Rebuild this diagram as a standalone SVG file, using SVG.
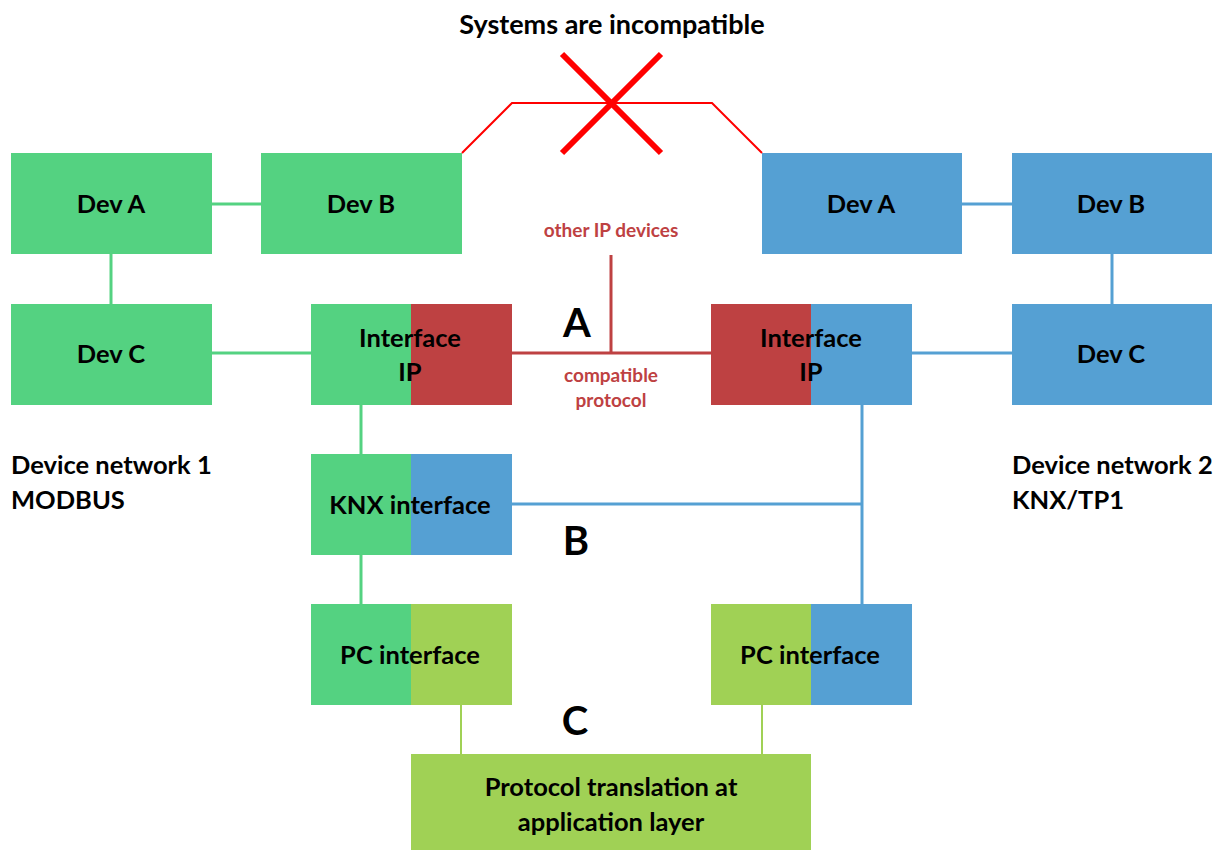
<svg xmlns="http://www.w3.org/2000/svg" width="1222" height="850" viewBox="0 0 1222 850">
<style>
.g{fill:#54D281}.b{fill:#55A0D3}.r{fill:#BE4142}.l{fill:#A0D155}
text{font-family:Lato,"Liberation Sans",sans-serif;font-weight:bold;fill:#000}
.t{font-size:25.5px;text-anchor:middle}
.big{font-size:40px;text-anchor:middle}
.red{fill:#BE4142;font-size:19px;text-anchor:middle}
.side{font-size:25.5px}
.cg{stroke:#54D281;stroke-width:3;fill:none}
.cb{stroke:#55A0D3;stroke-width:3;fill:none}
.cr{stroke:#BE4142;stroke-width:3;fill:none}
.cl{stroke:#A0D155;stroke-width:2;fill:none}
</style>
<rect width="1222" height="850" fill="#fff"/>
<g id="connectors">
<line class="cg" x1="212" y1="204" x2="261" y2="204"/>
<line class="cg" x1="111" y1="254" x2="111" y2="304"/>
<line class="cg" x1="212" y1="353" x2="311" y2="353"/>
<line class="cg" x1="361" y1="405" x2="361" y2="454"/>
<line class="cg" x1="361" y1="555" x2="361" y2="604"/>
<line class="cr" x1="512" y1="353" x2="711" y2="353"/>
<line class="cr" x1="611" y1="255" x2="611" y2="353"/>
<line class="cb" x1="962" y1="204" x2="1012" y2="204"/>
<line class="cb" x1="1112" y1="254" x2="1112" y2="304"/>
<line class="cb" x1="912" y1="353" x2="1012" y2="353"/>
<line class="cb" x1="512" y1="504" x2="862" y2="504"/>
<line class="cb" x1="862" y1="405" x2="862" y2="604"/>
<line class="cl" x1="461" y1="705" x2="461" y2="754"/>
<line class="cl" x1="762" y1="705" x2="762" y2="754"/>
<polyline points="462,153 512,103 712,103 762,153" fill="none" stroke="#FF0000" stroke-width="2"/>
<line x1="562" y1="54" x2="661" y2="153" stroke="#FF0000" stroke-width="6"/>
<line x1="661" y1="54" x2="562" y2="153" stroke="#FF0000" stroke-width="6"/>
</g>
<text x="612" y="34" style="font-size:27px;text-anchor:middle">Systems are incompatible</text>
<g id="g-devA"><rect class="g" x="11" y="153" width="201" height="101"/><text class="t" x="111" y="213">Dev A</text></g>
<g id="g-devB"><rect class="g" x="261" y="153" width="201" height="101"/><text class="t" x="361" y="213">Dev B</text></g>
<g id="g-devC"><rect class="g" x="11" y="304" width="201" height="101"/><text class="t" x="111" y="363">Dev C</text></g>
<g id="g-ip"><rect class="g" x="311" y="304" width="100" height="101"/><rect class="r" x="411" y="304" width="101" height="101"/><text class="t" x="410" y="347">Interface</text><text class="t" x="410" y="381">IP</text></g>
<g id="knx"><rect class="g" x="311" y="454" width="100" height="101"/><rect class="b" x="411" y="454" width="101" height="101"/><text class="t" x="410" y="514">KNX interface</text></g>
<g id="g-pc"><rect class="g" x="311" y="604" width="100" height="101"/><rect class="l" x="411" y="604" width="101" height="101"/><text class="t" x="410" y="664">PC interface</text></g>
<g id="b-devA"><rect class="b" x="762" y="153" width="200" height="101"/><text class="t" x="861" y="213">Dev A</text></g>
<g id="b-devB"><rect class="b" x="1012" y="153" width="200" height="101"/><text class="t" x="1111" y="213">Dev B</text></g>
<g id="b-devC"><rect class="b" x="1012" y="304" width="200" height="101"/><text class="t" x="1111" y="363">Dev C</text></g>
<g id="b-ip"><rect class="r" x="711" y="304" width="100" height="101"/><rect class="b" x="811" y="304" width="101" height="101"/><text class="t" x="811" y="347">Interface</text><text class="t" x="811" y="381">IP</text></g>
<g id="b-pc"><rect class="l" x="711" y="604" width="100" height="101"/><rect class="b" x="811" y="604" width="101" height="101"/><text class="t" x="810" y="664">PC interface</text></g>
<g id="proto"><rect class="l" x="411" y="754" width="400" height="96"/><text class="t" x="611" y="796">Protocol translation at</text><text class="t" x="611" y="831">application layer</text></g>
<g id="labels">
<text class="red" x="611" y="237">other IP devices</text>
<text class="red" x="611" y="382">compatible</text>
<text class="red" x="611" y="407">protocol</text>
<text class="big" x="577" y="337">A</text>
<text class="big" x="576" y="555">B</text>
<text class="big" x="575" y="735">C</text>
<text class="side" x="11" y="474">Device network 1</text>
<text class="side" x="11" y="509">MODBUS</text>
<text class="side" x="1012" y="474">Device network 2</text>
<text class="side" x="1012" y="509">KNX/TP1</text>
</g>
</svg>
